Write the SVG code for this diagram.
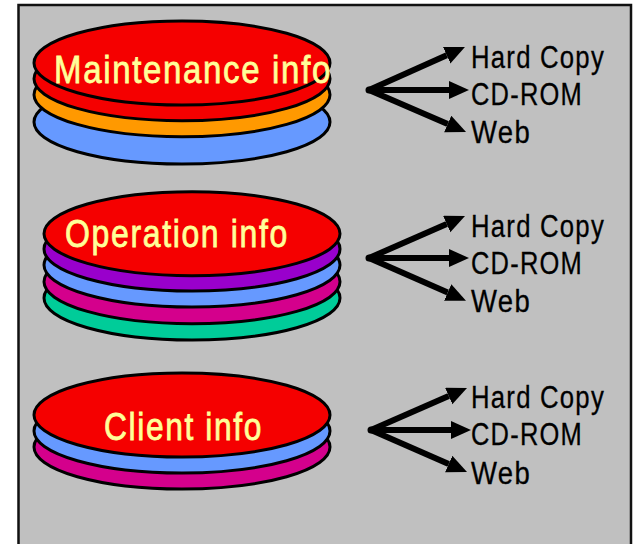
<svg xmlns="http://www.w3.org/2000/svg" width="637" height="544" viewBox="0 0 637 544">
<style>
text{font-family:"Liberation Sans Narrow","Liberation Sans",Arial,sans-serif}
.d{stroke:#000;stroke-width:3}
.t{font-size:39px;fill:#FFFF99;stroke:#FFFF99;stroke-width:.8;letter-spacing:2px}
.l{font-size:31px;fill:#000;stroke:#000;stroke-width:.3;letter-spacing:1.5px}
.a{stroke:#000;stroke-width:6;fill:none;marker-end:url(#h)}
.r{fill:#F50000}.b{fill:#6699FF}.o{fill:#FF9900}.p{fill:#9900CC}.m{fill:#D4008C}.g{fill:#00CC99}
</style>
<defs><marker id="h" markerUnits="userSpaceOnUse" markerWidth="22" markerHeight="20" refX="0" refY="9" orient="auto"><path d="M0 0L20 9L0 18Z" fill="#000"/></marker></defs>
<rect x="0" y="0" width="637" height="544" fill="#fff"/>
<rect id="frame" x="18.5" y="5" width="612.5" height="541" fill="#C0C0C0" stroke="#111" stroke-width="2.5"/>
<g id="stack-maintenance">
<ellipse class="d b" cx="182" cy="122" rx="148" ry="42"/>
<ellipse class="d o" cx="182" cy="94.7" rx="148" ry="42"/>
<ellipse class="d r" cx="182" cy="78.7" rx="148" ry="42"/>
<ellipse class="d r" cx="182" cy="63" rx="148" ry="42"/>
<text class="t" x="54" y="83" textLength="278" lengthAdjust="spacingAndGlyphs">Maintenance info</text>
</g>
<g id="stack-operation">
<ellipse class="d g" cx="192" cy="298" rx="148" ry="42"/>
<ellipse class="d m" cx="192" cy="281.7" rx="148" ry="42"/>
<ellipse class="d b" cx="192" cy="265" rx="148" ry="42"/>
<ellipse class="d p" cx="192" cy="249" rx="148" ry="42"/>
<ellipse class="d r" cx="192" cy="233.7" rx="148" ry="42"/>
<text class="t" x="65" y="247" textLength="224" lengthAdjust="spacingAndGlyphs">Operation info</text>
</g>
<g id="stack-client">
<ellipse class="d m" cx="182" cy="447" rx="148" ry="42"/>
<ellipse class="d b" cx="182" cy="431" rx="148" ry="42"/>
<ellipse class="d r" cx="182" cy="415" rx="148" ry="42"/>
<text class="t" x="104" y="440" textLength="159" lengthAdjust="spacingAndGlyphs">Client info</text>
</g>
<g id="connectors">
<circle cx="369" cy="90" r="3.5"/><circle cx="369" cy="258" r="3.5"/><circle cx="371" cy="430" r="3.5"/>
<path class="a" d="M369 90L446.7 55.2"/><path class="a" d="M369 90L449 90"/><path class="a" d="M369 90L447.7 124"/>
<path class="a" d="M369 258L446.7 224"/><path class="a" d="M369 258L449 258"/><path class="a" d="M369 258L447.7 292.6"/>
<path class="a" d="M371 430L448.7 396"/><path class="a" d="M371 430L451 430"/><path class="a" d="M371 430L448.7 464"/>
</g>
<g id="labels-maintenance">
<text class="l" x="471" y="68" textLength="134" lengthAdjust="spacingAndGlyphs">Hard Copy</text>
<text class="l" x="471" y="105" textLength="112" lengthAdjust="spacingAndGlyphs">CD-ROM</text>
<text class="l" x="471" y="143" textLength="60" lengthAdjust="spacingAndGlyphs">Web</text>
</g>
<g id="labels-operation">
<text class="l" x="471" y="237" textLength="134" lengthAdjust="spacingAndGlyphs">Hard Copy</text>
<text class="l" x="471" y="274" textLength="112" lengthAdjust="spacingAndGlyphs">CD-ROM</text>
<text class="l" x="471" y="312" textLength="60" lengthAdjust="spacingAndGlyphs">Web</text>
</g>
<g id="labels-client">
<text class="l" x="471" y="408" textLength="134" lengthAdjust="spacingAndGlyphs">Hard Copy</text>
<text class="l" x="471" y="445" textLength="112" lengthAdjust="spacingAndGlyphs">CD-ROM</text>
<text class="l" x="471" y="484" textLength="60" lengthAdjust="spacingAndGlyphs">Web</text>
</g>
</svg>
